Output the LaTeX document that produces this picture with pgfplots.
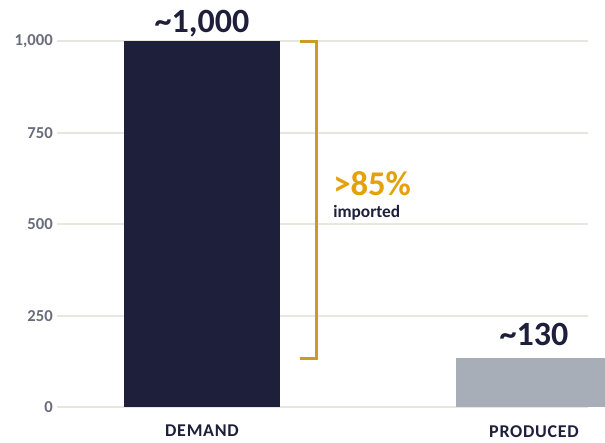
\documentclass[border=0pt]{standalone}
\usepackage{pgfplots}
\pgfplotsset{compat=1.18}
\usepackage{fontspec}
\setmainfont{Carlito}
\definecolor{navy}{HTML}{1E1F3B}
\definecolor{barGray}{HTML}{A8AEB8}
\definecolor{goldText}{HTML}{E3A20B}
\definecolor{goldLine}{HTML}{CD9A25}
\definecolor{tickGray}{HTML}{6B6B7B}
\definecolor{gridCol}{HTML}{E8E6E0}
\begin{document}
\begin{tikzpicture}
\useasboundingbox (0,0) rectangle (453.75pt,331.5pt);
\clip (0,0) rectangle (453.75pt,331.5pt);
\begin{axis}[
  at={(42.75pt,26.25pt)}, anchor=south west,
  scale only axis, width=398.25pt, height=274.125pt,
  xmin=-0.4367, xmax=1.1627, ymin=0, ymax=1000,
  axis line style={draw=none}, clip=false,
  ybar, bar width=117pt,
  ytick={0,250,500,750,1000},
  yticklabels={0,250,500,750,{1,000}},
  xtick={0,1}, xticklabels={DEMAND,PRODUCED},
  major tick length=0pt,
  ymajorgrids, grid style={gridCol, line width=1.5pt},
  yticklabel style={font=\fontsize{12.5}{14}\selectfont\bfseries, text=tickGray, inner sep=0pt, xshift=-3pt},
  xticklabel style={font=\fontsize{13.5}{15}\selectfont\bfseries\addfontfeatures{LetterSpace=4}, text=navy, inner sep=0pt, anchor=north, yshift=-13.5pt},
]
\addplot[ybar, bar shift=0pt, fill=navy, draw=none] coordinates {(0,1000)};
\addplot[ybar, bar shift=0pt, fill=barGray, draw=none] coordinates {(1,135)};
\addplot[sharp plot, goldLine, line width=2.25pt, mark=none] coordinates {(0.295,1000) (0.346,1000) (0.346,134) (0.295,134)};
\node[anchor=base, inner sep=0pt, yshift=6.5pt, text=navy, font=\fontsize{25.5}{28}\selectfont\bfseries] at (axis cs:0,1000) {\textasciitilde 1,000};
\node[anchor=base, inner sep=0pt, yshift=9pt, text=navy, font=\fontsize{25.5}{28}\selectfont\bfseries] at (axis cs:1,135) {\textasciitilde 130};
\node[anchor=base west, inner sep=0pt, text=goldText, font=\fontsize{26}{29}\selectfont\bfseries] at (axis cs:0.3946,580) {>85\%};
\node[anchor=base west, inner sep=0pt, text=navy, font=\fontsize{13}{15}\selectfont\bfseries] at (axis cs:0.3946,518) {imported};
\end{axis}
\end{tikzpicture}
\end{document}
